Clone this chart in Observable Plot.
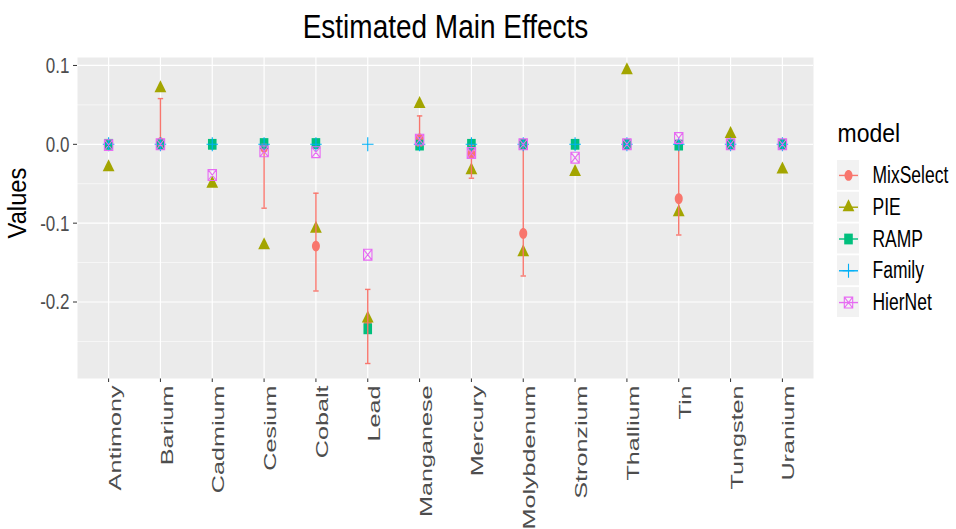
<!DOCTYPE html>
<html>
<head>
<meta charset="utf-8">
<script src="https://cdn.jsdelivr.net/npm/d3@7"></script>
<script src="https://cdn.jsdelivr.net/npm/@observablehq/plot@0.6"></script>
<style>
  html, body { margin: 0; padding: 0; background: white; }
  #wrap { position: relative; width: 956px; height: 529px; overflow: hidden; }
  #legend { position: absolute; left: 837px; top: 110px; }
</style>
</head>
<body>
<div id="wrap"><div id="main"></div><div id="legend"></div></div>
<script>
// ---------- data ----------
const categories = ["Antimony","Barium","Cadmium","Cesium","Cobalt","Lead","Manganese","Mercury","Molybdenum","Stronzium","Thallium","Tin","Tungsten","Uranium"];
const models = ["MixSelect","PIE","RAMP","Family","HierNet"];
const colors = ["#F8766D","#A3A500","#00BF7D","#00B0F6","#E76BF3"];

const mixSelect = [0, 0.002, 0, -0.004, -0.129, -0.226, 0.007, -0.012, -0.113, 0, 0, -0.069, 0, 0];
const mixLower  = [0, -0.001, 0, -0.081, -0.186, -0.278, -0.002, -0.043, -0.167, 0, 0, -0.115, 0, 0];
const mixUpper  = [0, 0.058, 0, 0.000, -0.062, -0.184, 0.036, -0.001, 0.000, 0, 0, 0.000, 0, 0];
const pie       = [-0.029, 0.071, -0.050, -0.128, -0.107, -0.221, 0.051, -0.033, -0.137, -0.035, 0.094, -0.086, 0.013, -0.032];
const ramp      = [0, 0, 0, 0.001, 0.001, -0.234, -0.001, 0, 0, 0, 0, -0.001, 0, 0];
const family    = [0, 0, 0, 0, 0, 0, 0, 0, 0, 0, 0, 0, 0, 0];
const hierNet   = [-0.001, 0, -0.039, -0.009, -0.010, -0.140, 0.006, -0.011, 0, -0.017, 0, 0.008, 0, 0];

const yTicks = [0.1, 0, -0.1, -0.2];
const yMinor = [0.05, -0.05, -0.15, -0.25];
const yDomain = [-0.297, 0.1101];

const title = "Estimated Main Effects";
const yTitle = "Values";
const legendTitle = "model";

// ---------- tables ----------
const seriesValues = {MixSelect: mixSelect, PIE: pie, RAMP: ramp, Family: family, HierNet: hierNet};
const rows = models.flatMap(m => categories.map((c, i) => ({category: c, model: m, value: seriesValues[m][i]})));
const ci = categories.map((c, i) => ({category: c, lower: mixLower[i], upper: mixUpper[i]}))
  .filter(d => d.lower !== d.upper);
const caps = ci.flatMap(d => [{category: d.category, v: d.lower}, {category: d.category, v: d.upper}]);

// ---------- symbols (slightly taller than wide, like the reference) ----------
const K = 1.35;
const symCircle = {draw(ctx) { const rx = 4.0, ry = rx * K, c = 0.5523;
  ctx.moveTo(rx, 0);
  ctx.bezierCurveTo(rx, ry * c, rx * c, ry, 0, ry);
  ctx.bezierCurveTo(-rx * c, ry, -rx, ry * c, -rx, 0);
  ctx.bezierCurveTo(-rx, -ry * c, -rx * c, -ry, 0, -ry);
  ctx.bezierCurveTo(rx * c, -ry, rx, -ry * c, rx, 0);
  ctx.closePath(); }};
const symTriangle = {draw(ctx) { const w = 11.8, h = 12;
  ctx.moveTo(0, -2 * h / 3); ctx.lineTo(w / 2, h / 3); ctx.lineTo(-w / 2, h / 3); ctx.closePath(); }};
const symSquare = {draw(ctx) { const w = 8.6, h = 10.8;
  ctx.moveTo(-w / 2, -h / 2); ctx.lineTo(w / 2, -h / 2); ctx.lineTo(w / 2, h / 2); ctx.lineTo(-w / 2, h / 2); ctx.closePath(); }};
const symPlus = {draw(ctx) { const a = 5.8, b = 7;
  ctx.moveTo(-a, 0); ctx.lineTo(a, 0); ctx.moveTo(0, -b); ctx.lineTo(0, b); }};
const symSquareX = {draw(ctx) { const w = 8.4, h = 10.8;
  ctx.moveTo(-w / 2, -h / 2); ctx.lineTo(w / 2, -h / 2); ctx.lineTo(w / 2, h / 2); ctx.lineTo(-w / 2, h / 2); ctx.closePath();
  ctx.moveTo(-w / 2, -h / 2); ctx.lineTo(w / 2, h / 2); ctx.moveTo(w / 2, -h / 2); ctx.lineTo(-w / 2, h / 2); }};
const symCap = {draw(ctx) { ctx.moveTo(-2.7, 0); ctx.lineTo(2.7, 0); }};
const symKeyLine = {draw(ctx) { ctx.moveTo(-9.5, 0); ctx.lineTo(9.5, 0); }};

const modelSymbol = {MixSelect: symCircle, PIE: symTriangle, RAMP: symSquare, Family: symPlus, HierNet: symSquareX};
const filled = {MixSelect: true, PIE: true, RAMP: true, Family: false, HierNet: false};
const colorOf = m => colors[models.indexOf(m)];

function dotMark(m, data, xk, yk) {
  return Plot.dot(data, {
    x: xk, y: yk, symbol: modelSymbol[m],
    fill: filled[m] ? colorOf(m) : "none",
    stroke: filled[m] ? "none" : colorOf(m),
    strokeWidth: 1.1
  });
}

const font = "'Liberation Sans', Arial, Helvetica, sans-serif";

// ---------- main chart ----------
const main = Plot.plot({
  width: 956, height: 529,
  marginTop: 57, marginBottom: 151, marginLeft: 77, marginRight: 143,
  style: {fontFamily: font, fontSize: "17px", color: "#4D4D4D", background: "white", overflow: "visible"},
  x: {type: "point", domain: categories, padding: 0.6, round: false, tickSize: 4, tickFormat: () => "", label: null},
  y: {domain: yDomain, ticks: yTicks, tickFormat: d => d.toFixed(1), tickSize: 4, tickPadding: 4, label: null},
  marks: [
    Plot.frame({fill: "#EBEBEB"}),
    Plot.ruleY(yMinor, {stroke: "white", strokeWidth: 0.6}),
    Plot.ruleY(yTicks, {stroke: "white", strokeWidth: 1.2}),
    Plot.ruleX(categories, {stroke: "white", strokeWidth: 1.2}),
    ...["MixSelect", "PIE", "RAMP"].map(m => dotMark(m, rows.filter(d => d.model === m), "category", "value")),
    Plot.ruleX(ci, {x: "category", y1: "lower", y2: "upper", stroke: colors[0], strokeWidth: 1.4}),
    Plot.dot(caps, {x: "category", y: "v", symbol: symCap, stroke: colors[0], strokeWidth: 1.4}),
    ...["Family", "HierNet"].map(m => dotMark(m, rows.filter(d => d.model === m), "category", "value")),
    Plot.text(categories, {x: d => d, frameAnchor: "bottom", rotate: -90, textAnchor: "end", lineAnchor: "top", dy: 7, fill: "#4D4D4D", fontSize: 17}),
    Plot.text([title], {frameAnchor: "top", dy: -20, lineAnchor: "bottom", fill: "black", fontSize: 28, text: d => d}),
    Plot.text([yTitle], {frameAnchor: "left", rotate: -90, dx: -60, dy: -15, textAnchor: "middle", lineAnchor: "middle", fill: "black", fontSize: 25, text: d => d})
  ]
});
document.getElementById("main").appendChild(main);

// ---------- legend ----------
const legend = Plot.plot({
  width: 119, height: 220, margin: 0,
  style: {fontFamily: font, fontSize: "17.5px", color: "black", background: "transparent", overflow: "visible"},
  x: {type: "band", domain: ["key"], range: [0, 22], padding: 0, round: false, axis: null},
  y: {type: "band", domain: models, range: [50, 207], paddingInner: 0.06, paddingOuter: 0, round: false, axis: null},
  marks: [
    Plot.cell(models, {x: () => "key", y: d => d, fill: "#F2F2F2", inset: 0}),
    Plot.dot(models, {x: () => "key", y: d => d, symbol: symKeyLine, stroke: d => colorOf(d), strokeWidth: 1.4}),
    ...models.map(m => dotMark(m, [m], () => "key", d => d)),
    Plot.text(models, {x: () => "key", y: d => d, text: d => d, dx: 24, textAnchor: "start", fill: "black"}),
    Plot.text([legendTitle], {frameAnchor: "top-left", dy: 23, lineAnchor: "middle", fontSize: 23, fill: "black", text: d => d})
  ]
});
document.getElementById("legend").appendChild(legend);

// ---------- finishing: tick colours and the reference's tall text ----------
for (const svg of [main, legend]) {
  const root = svg.tagName.toLowerCase() === "svg" ? svg : svg.querySelector("svg");
  root.querySelectorAll('g[aria-label$="tick"] path, g[aria-label$="tick"] line, g.tick line').forEach(e => e.setAttribute("stroke", "#333333"));
  root.querySelectorAll("text").forEach(t => {
    if (!t.textContent) return;
    let k = 1.35;
    if (t.textContent === title) k = 1.2;
    if (t.textContent === legendTitle) k = 1.15;
    if (t.textContent === yTitle) k = 0.95;
    let tr = t.getAttribute("transform") || "";
    const ya = t.getAttribute("y");
    if (ya && !/em/.test(ya)) { tr += ` translate(0,${ya})`; t.removeAttribute("y"); }
    const rotated = /rotate\(-90/.test(tr);
    if (rotated && categories.includes(t.textContent)) k = 1.48;
    t.setAttribute("transform", tr + (rotated ? ` scale(${k},1)` : ` scale(1,${k})`));
  });
}
</script>
</body>
</html>
